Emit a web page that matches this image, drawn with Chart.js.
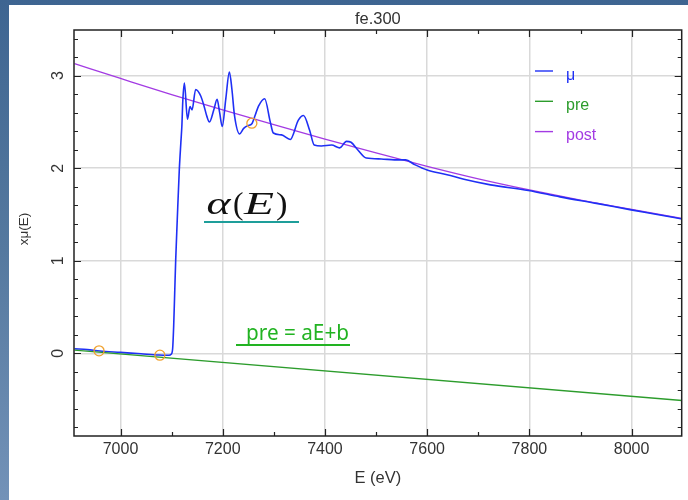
<!DOCTYPE html>
<html><head><meta charset="utf-8">
<script src="https://cdn.jsdelivr.net/npm/chart.js@4"></script>
<style>
html,body{margin:0;padding:0;}
body{width:688px;height:500px;overflow:hidden;position:relative;background:linear-gradient(180deg,#3e6591 0%,#55799f 50%,#7392b8 100%);}
#panel{position:absolute;left:9px;top:5px;right:0;bottom:0;background:#fff;}
#c{position:absolute;left:0;top:0;}
</style></head><body>
<div id="panel"></div>
<canvas id="c" width="688" height="500"></canvas>
<script>
// ---- data ----
const energy = [6910,6935,6960,7000,7040,7075,7095,7099,7102,7104,7106,7108,7111,7115,7118,7120,7122,7125,
  7131,7136,7140,7147,7157,7163,7169,7174,7183,7189,7194,7199,7206,7213,7218,7223,7233,7241,7249,7257,7264,7270,7282,
  7293,7299,7315,7332,7348,7358,7370,7379,7393,7413,7429,7442,7451,7464,7481,7510,7536,7558,7575,7600,7639,7672,7724,
  7798,7860,7931,7999,8050,8100];
const mu = [0.05,0.04,0.025,0.01,-0.005,-0.018,-0.02,-0.01,0.05,0.29,0.65,1.01,1.44,1.98,2.27,2.45,2.74,2.92,
  2.53,2.665,2.63,2.85,2.78,2.68,2.56,2.50,2.64,2.745,2.60,2.45,2.75,3.04,2.85,2.57,2.37,2.43,2.46,2.48,2.58,2.67,2.75,
  2.50,2.38,2.36,2.31,2.52,2.57,2.41,2.25,2.24,2.25,2.22,2.29,2.28,2.20,2.11,2.10,2.09,2.09,2.04,1.98,1.93,1.88,1.82,
  1.76,1.69,1.62,1.55,1.50,1.45];
const postE = [6910,7000,7100,7200,7300,7400,7500,7600,7700,7800,7900,8000,8100];
const postV = [3.13,2.97,2.795,2.63,2.47,2.315,2.165,2.02,1.885,1.765,1.655,1.555,1.455];
const preE = [6910,8100];
const preV = [0.035,-0.51];
const markerE = [6958,7077,7257];
const markerV = [0.027,-0.02,2.486];
const xTicks = [7000,7200,7400,7600,7800,8000];
const yTicks = [0,1,2,3];
const labels = ['\u03bc','pre','post'];

const BLUE='#1f30f5', GREEN='#2c9c2c', PURPLE='#a33be3';
const pts=(xs,ys)=>xs.map((x,i)=>({x:x,y:ys[i]}));

function fitText(ctx,t,x0,x1,base,font,color){
  ctx.save();ctx.font=font;ctx.fillStyle=color;ctx.textAlign='left';ctx.textBaseline='alphabetic';
  const w=ctx.measureText(t).width;const sx=(x1-x0)/w;
  ctx.translate(x0,base);ctx.scale(sx,1);ctx.fillText(t,0,0);ctx.restore();
}

const decor={id:'decor',
 afterDraw(chart){
  const ctx=chart.ctx,a=chart.chartArea,xs=chart.scales.x,ys=chart.scales.y;
  ctx.save();
  // frame
  ctx.strokeStyle='#222';ctx.lineWidth=1.5;
  ctx.strokeRect(a.left,a.top,a.right-a.left,a.bottom-a.top);
  // inward ticks
  ctx.lineWidth=1.2;ctx.beginPath();
  for(let v=7000;v<=8100;v+=100){
    const x=Math.round(xs.getPixelForValue(v))+0.5; if(x<a.left||x>a.right)continue;
    const L=(v%200===0)?7:4;
    ctx.moveTo(x,a.bottom);ctx.lineTo(x,a.bottom-L);ctx.moveTo(x,a.top);ctx.lineTo(x,a.top+L);
  }
  for(let k=-4;k<=17;k++){
    const v=k*0.2;const y=Math.round(ys.getPixelForValue(v))+0.5; if(y<a.top||y>a.bottom)continue;
    const L=(k%5===0)?7:4;
    ctx.moveTo(a.left,y);ctx.lineTo(a.left+L,y);ctx.moveTo(a.right,y);ctx.lineTo(a.right-L,y);
  }
  ctx.stroke();
  // tick labels
  ctx.fillStyle='#333';ctx.font='16px "Liberation Sans"';ctx.textBaseline='alphabetic';ctx.textAlign='center';
  xTicks.forEach(v=>ctx.fillText(String(v),xs.getPixelForValue(v),454));
  yTicks.forEach(v=>{ctx.save();ctx.translate(62.5,ys.getPixelForValue(v));ctx.rotate(-Math.PI/2);ctx.fillText(String(v),0,0);ctx.restore();});
  // titles
  ctx.font='16.5px "Liberation Sans"';
  ctx.fillText('fe.300',(a.left+a.right)/2,24);
  ctx.fillText('E (eV)',(a.left+a.right)/2,483);
  ctx.save();ctx.font='13.5px "Liberation Sans"';ctx.translate(28,229);ctx.rotate(-Math.PI/2);ctx.fillText('x\u03bc(E)',0,0);ctx.restore();
  // legend
  const cols=[BLUE,GREEN,PURPLE];
  ctx.textAlign='left';ctx.font='16px "Liberation Sans"';
  labels.forEach((t,i)=>{
    const ly=71+i*30.3;
    ctx.strokeStyle=cols[i];ctx.lineWidth=1.4;ctx.beginPath();ctx.moveTo(535,ly);ctx.lineTo(553,ly);ctx.stroke();
    ctx.fillStyle=cols[i];ctx.fillText(t,566,ly+8.5);
  });
  // annotations
  fitText(ctx,'\u03b1',206.5,230.5,214,'italic 32px "Liberation Serif"','#111');
  fitText(ctx,'(',233,243.5,214,'32px "Liberation Serif"','#111');
  fitText(ctx,'E',244,274,214,'italic 32px "Liberation Serif"','#111');
  fitText(ctx,')',276,287.5,214,'32px "Liberation Serif"','#111');
  ctx.strokeStyle='#1e9e9a';ctx.lineWidth=2;ctx.beginPath();ctx.moveTo(204,222);ctx.lineTo(299,222);ctx.stroke();
  fitText(ctx,'pre = aE+b',246,349,340,'21px "Noto Sans"','#22b322');
  ctx.strokeStyle='#22b322';ctx.lineWidth=2;ctx.beginPath();ctx.moveTo(236,345);ctx.lineTo(350,345);ctx.stroke();
  ctx.restore();
 }};

new Chart(document.getElementById('c').getContext('2d'),{
 type:'line',
 data:{datasets:[
  {label:'markers',data:pts(markerE,markerV),showLine:false,pointRadius:5,pointHoverRadius:5,pointBorderColor:'#f0a230',pointBackgroundColor:'rgba(0,0,0,0)',pointBorderWidth:1.3},
  {label:'pre',data:pts(preE,preV),borderColor:GREEN,borderWidth:1.3,pointRadius:0,fill:false},
  {label:'mu',data:pts(energy,mu),borderColor:BLUE,borderWidth:1.6,pointRadius:0,fill:false,cubicInterpolationMode:'monotone'},
  {label:'post',data:pts(postE,postV),borderColor:PURPLE,borderWidth:1.3,pointRadius:0,fill:false,cubicInterpolationMode:'monotone'}
 ]},
 options:{
  responsive:false,animation:false,devicePixelRatio:1,
  layout:{padding:{top:30,right:2,left:0,bottom:0}},
  plugins:{legend:{display:false},title:{display:false},tooltip:{enabled:false}},
  scales:{
   x:{type:'linear',min:6909,max:8098,
      afterBuildTicks:s=>{s.ticks=xTicks.map(v=>({value:v}));},
      afterFit:s=>{s.height=64;},
      ticks:{display:false},grid:{color:'#d9d9d9',lineWidth:1.5,drawTicks:false},border:{display:false}},
   y:{type:'linear',min:-0.893,max:3.493,
      afterBuildTicks:s=>{s.ticks=yTicks.map(v=>({value:v}));},
      afterFit:s=>{s.width=74;},
      ticks:{display:false},grid:{color:'#d9d9d9',lineWidth:1.5,drawTicks:false},border:{display:false}}
  }
 },
 plugins:[decor]
});
</script>
</body></html>
